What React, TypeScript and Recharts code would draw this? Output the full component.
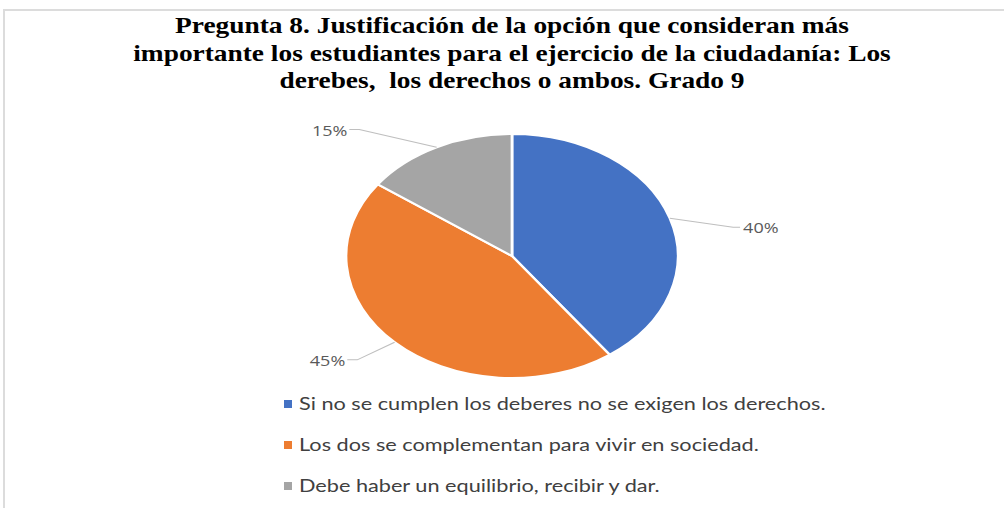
import { Cell, Pie, PieChart } from "recharts";

const categories = [
    "Si no se cumplen los deberes no se exigen los derechos.",
    "Los dos se complementan para vivir en sociedad.",
    "Debe haber un equilibrio, recibir y dar.",
];
const percentages = [40, 45, 15];
const COLORS = ["#4472C4", "#ED7D31", "#A5A5A5"];

const titleLines = [
    "Pregunta 8. Justificación de la opción que consideran más",
    "importante los estudiantes para el ejercicio de la ciudadanía: Los",
    "derebes,  los derechos o ambos. Grado 9",
];

// the pie in the picture is an ellipse, so the chart is stretched sideways
const STRETCH = 166 / 122;
// where Excel put each data label: turn from the slice's mid angle, and distance
const LABEL_NUDGE = [-8, -2.6, 14.6];
const KNEE_RADIUS = [165, 154, 169];
const RAD = Math.PI / 180;

const chartData = categories.map((name, i) => ({ name, value: percentages[i] }));

function renderLabel(props: any) {
    const { cx, cy, midAngle, outerRadius, index, value } = props;
    const ex = cx + outerRadius * Math.cos(-midAngle * RAD);
    const ey = cy + outerRadius * Math.sin(-midAngle * RAD);
    const a = midAngle + LABEL_NUDGE[index];
    const kx = cx + KNEE_RADIUS[index] * Math.cos(-a * RAD);
    const ky = cy + KNEE_RADIUS[index] * Math.sin(-a * RAD);
    const right = kx > cx;
    const hx = kx + (right ? 7 : -10) / STRETCH;
    const tx = hx + (right ? 3 : -2) / STRETCH;
    return (
        <g>
            <polyline
                points={`${ex},${ey} ${kx},${ky} ${hx},${ky}`}
                fill="none"
                stroke="#bfbfbf"
                strokeWidth={1}
                vectorEffect="non-scaling-stroke"
            />
            <text
                transform={`translate(${tx},${ky}) scale(${1.2 / STRETCH},1)`}
                textAnchor={right ? "start" : "end"}
                dominantBaseline="central"
                fill="#595959"
                fontSize={15}
                fontFamily="'Open Sans', sans-serif"
            >
                {value}%
            </text>
        </g>
    );
}

export default function App() {
    return (
        <div
            style={{
                position: "absolute",
                left: 0,
                top: 0,
                width: 1004,
                height: 508,
                overflow: "hidden",
                background: "#fff",
            }}
        >
            <div
                style={{
                    position: "absolute",
                    left: 3,
                    top: 9,
                    width: 1100,
                    height: 600,
                    border: "2px solid #dcdcdc",
                }}
            />
            <div
                style={{
                    position: "absolute",
                    left: 0,
                    top: 12,
                    width: 1024,
                    textAlign: "center",
                    fontFamily: "'Liberation Serif', 'Times New Roman', serif",
                    fontWeight: "bold",
                    fontSize: 23,
                    lineHeight: "27.5px",
                    color: "#000",
                    transform: "scaleX(1.19)",
                    transformOrigin: "512px 0px",
                }}
            >
                {titleLines.map((line) => (
                    <div key={line} style={{ whiteSpace: "pre" }}>{line}</div>
                ))}
            </div>
            <div
                style={{
                    position: "absolute",
                    left: 312,
                    top: 106,
                    width: 400,
                    height: 300,
                    transform: `scaleX(${STRETCH})`,
                    transformOrigin: "200px 150px",
                }}
            >
                <PieChart width={400} height={300} margin={{ top: 0, right: 0, bottom: 0, left: 0 }}>
                    <Pie
                        data={chartData}
                        dataKey="value"
                        nameKey="name"
                        cx={200}
                        cy={150}
                        outerRadius={122}
                        startAngle={90}
                        endAngle={-270}
                        stroke="#fff"
                        strokeWidth={2}
                        label={renderLabel}
                        labelLine={false}
                        isAnimationActive={false}
                    >
                        {chartData.map((_entry, index) => (
                            <Cell key={`cell-${index}`} fill={COLORS[index]} />
                        ))}
                    </Pie>
                </PieChart>
            </div>
            <div
                style={{
                    position: "absolute",
                    left: 284,
                    top: 383,
                    fontFamily: "Lato, sans-serif",
                    fontSize: 17,
                    color: "#404040",
                }}
            >
                {categories.map((name, i) => (
                    <div key={name} style={{ display: "flex", alignItems: "center", height: 41 }}>
                        <span
                            style={{
                                width: 8,
                                height: 8,
                                background: COLORS[i],
                                marginRight: 7,
                                display: "inline-block",
                                flex: "none",
                            }}
                        />
                        <span
                            style={{
                                whiteSpace: "pre",
                                display: "inline-block",
                                transform: "scaleX(1.275)",
                                transformOrigin: "0px 50%",
                            }}
                        >
                            {name}
                        </span>
                    </div>
                ))}
            </div>
        </div>
    );
}
